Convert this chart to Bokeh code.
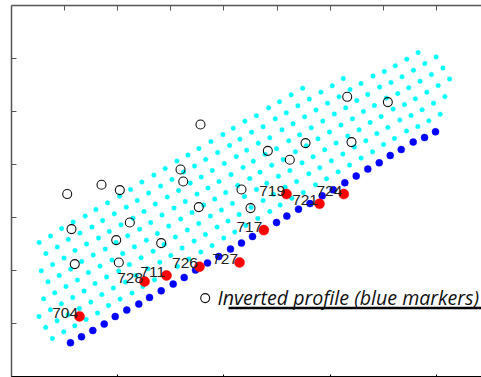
from bokeh.plotting import figure
from bokeh.models import LinearAxis, FixedTicker, Label, Range1d, CustomJSTickFormatter
from bokeh.embed import file_html
from bokeh.resources import INLINE
from bokeh.core.properties import value

# ---------------- data ----------------
# inverted profile (blue markers)
profile_x = [1.111, 1.318, 1.531, 1.746, 1.953, 2.171, 2.397, 2.599, 2.819, 3.045,
             3.252, 3.465, 3.691, 3.904, 4.124, 4.331, 4.539, 4.765, 4.991, 5.185,
             5.405, 5.621, 5.851, 6.058, 6.277, 6.492, 6.710, 6.925, 7.132, 7.339,
             7.565, 7.778, 7.985]
profile_y = [0.636, 0.749, 0.868, 0.989, 1.132, 1.253, 1.366, 1.491, 1.617, 1.743,
             1.868, 2.008, 2.140, 2.264, 2.404, 2.517, 2.642, 2.774, 2.906, 3.026,
             3.158, 3.262, 3.409, 3.523, 3.655, 3.781, 3.913, 4.032, 4.170, 4.283,
             4.423, 4.509, 4.617]

# model mesh (cyan): column anchors before/after the profile, rows per column, row step
mesh_lead_x = [0.896]
mesh_lead_y = [0.511]
mesh_extra_x = [8.200, 8.414, 8.629]
mesh_extra_y = [4.742, 4.866, 4.991]
mesh_col_rows = [3, 4, 6] + [8] * 24 + [7] * 3 + [6] * 6 + [5]
mesh_row_dx = -0.1262
mesh_row_dy = 0.2075
mesh_x_min = 0.508
mesh_x_max = 8.27

# stations (red markers) and their labels
station_x = [1.281, 2.505, 2.919, 3.540, 4.294, 4.751, 5.179, 5.800, 6.258]
station_y = [1.134, 1.792, 1.906, 2.070, 2.151, 2.762, 3.442, 3.258, 3.442]
station_labels = ["704", "728", "711", "726", "727", "717", "719", "721", "724"]

# observations (open circles)
obs_x = [1.049, 1.695, 2.040, 1.130, 2.228, 1.972, 1.192, 2.021, 2.819, 3.183,
         3.234, 3.559, 3.527, 4.331, 4.501, 3.648, 4.827, 5.241, 5.537, 6.322,
         7.087, 6.403]
obs_y = [3.442, 3.617, 3.517, 2.781, 2.906, 2.574, 2.121, 2.151, 2.517, 3.906,
         3.679, 4.755, 3.196, 3.528, 3.177, 1.479, 4.258, 4.089, 4.404, 5.277,
         5.177, 4.423]

x_ticks = [1, 2, 3, 4, 5, 6, 7, 8]
y_ticks = [1, 2, 3, 4, 5, 6]

annotation_text = "Inverted profile (blue markers)"

# ---------------- build mesh nodes ----------------
anchors_x = mesh_lead_x + profile_x + mesh_extra_x
anchors_y = mesh_lead_y + profile_y + mesh_extra_y
mesh_x, mesh_y = [], []
for ax, ay, nrows in zip(anchors_x, anchors_y, mesh_col_rows):
    for t in range(1, nrows + 1):
        mx = ax + t * mesh_row_dx
        my = ay + t * mesh_row_dy
        if mesh_x_min <= mx <= mesh_x_max:
            mesh_x.append(mx)
            mesh_y.append(my)

# ---------------- figure ----------------
p = figure(frame_width=470, frame_height=371,
           x_range=Range1d(0, 8.851), y_range=Range1d(0, 7.0),
           output_backend="svg", toolbar_location=None,
           min_border_left=11, min_border_right=0, min_border_top=5, min_border_bottom=1,
           background_fill_color="white", border_fill_color="white",
           outline_line_color=None)
p.grid.visible = False

top_axis = LinearAxis()
p.add_layout(top_axis, "above")

for ax_ in [p.xaxis[0], top_axis]:
    ax_.ticker = FixedTicker(ticks=x_ticks)
for ax_ in [p.yaxis[0]]:
    ax_.ticker = FixedTicker(ticks=y_ticks)

for ax_ in [p.xaxis[0], top_axis, p.yaxis[0]]:
    ax_.formatter = CustomJSTickFormatter(code="return ''")
    ax_.major_tick_in = 5
    ax_.major_tick_out = 0
    ax_.minor_tick_in = 0
    ax_.minor_tick_out = 0
    ax_.major_label_text_font_size = "1px"
    ax_.major_label_text_color = None
    ax_.major_label_standoff = 0
    ax_.axis_line_color = "#555555"
    ax_.axis_line_width = 1.5
    ax_.major_tick_line_color = "#555555"
    ax_.major_tick_line_width = 1

p.scatter(mesh_x, mesh_y, marker="circle", size=4.5, fill_color="#00ffff", line_color="#00ffff", line_width=0.5)
p.scatter(obs_x, obs_y, marker="circle", size=9, fill_color=None, line_color="#111111", line_width=1.1)
p.scatter(profile_x, profile_y, marker="circle", size=7, fill_color="#0000ff", line_color="#0000ff", line_width=0.5)
p.scatter(station_x, station_y, marker="circle", size=10, fill_color="#ff0000", line_color="#ff0000", line_width=0.5)
p.text(station_x, station_y, text=station_labels, text_align="right", text_baseline="alphabetic",
       x_offset=-1.5, y_offset=-3.5, text_font=value("Liberation Sans"), text_font_size="15.5px",
       text_color="#222222")

p.add_layout(Label(x=3.879, y=1.491, text=annotation_text, text_font="Open Sans",
                   text_font_style="italic", text_font_size="19.6px", text_color="#111111",
                   text_baseline="alphabetic"))
p.line([4.087, 8.9], [1.291, 1.291], line_color="black", line_width=2.5)

open("out.html", "w").write(file_html(p, INLINE))
